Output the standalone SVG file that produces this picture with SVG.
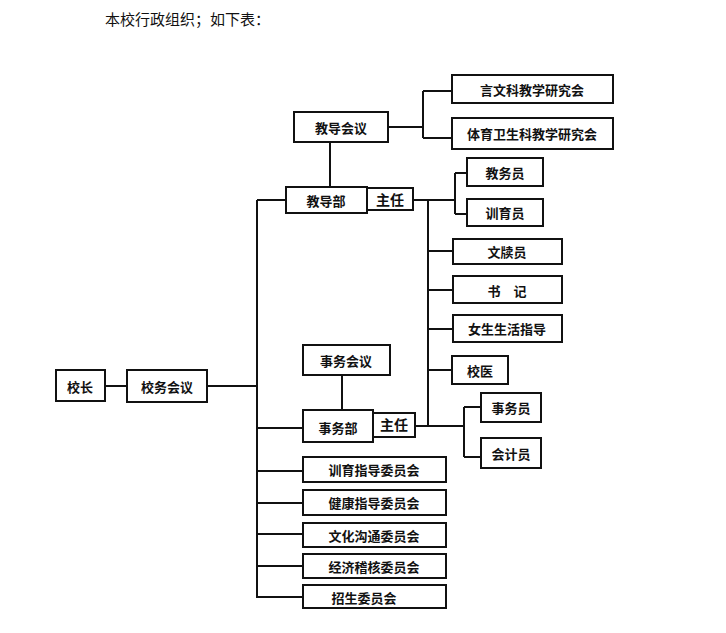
<svg xmlns="http://www.w3.org/2000/svg" width="726" height="633" viewBox="0 0 726 633">
<style>
rect{fill:#fff;stroke:#111;stroke-width:2}
text{font-family:"Noto Sans CJK SC",sans-serif;font-size:13px;font-weight:bold;fill:#111;text-anchor:middle;dominant-baseline:central}
#connectors path{fill:none;stroke:#111;stroke-width:2}
.title{font-family:"Noto Sans CJK SC",serif;font-size:15px;font-weight:normal;text-anchor:start}
</style>
<rect width="726" height="633" style="fill:#fff;stroke:none"/>
<text class="title" x="105" y="18">本校行政组织；如下表：</text>
<g id="connectors">
<path d="M105 386H127M207 386H257M257 200V598M257 200H286"/>
<path d="M330 142V187M388 127H423M423 91V138M423 91H452M423 138H452"/>
<path d="M413 200H455M455 173V214M455 173H467M455 214H467M428 200V426"/>
<path d="M428 251H453M428 290H453M428 329H453M428 370H452"/>
<path d="M342 375V410M257 428H303M415 426H464M464 407V457M464 407H481M464 457H481"/>
<path d="M257 471H303M257 503H303M257 534H303M257 566H303M257 597H303"/>
</g>
<g id="n1"><rect x="56" y="370" width="49" height="31"/><text x="80" y="386">校长</text></g>
<g id="n2"><rect x="127" y="370" width="80" height="32"/><text x="167" y="386">校务会议</text></g>
<g id="n3"><rect x="294" y="112" width="94" height="30"/><text x="341" y="127">教导会议</text></g>
<g id="n4"><rect x="452" y="75" width="161" height="28"/><text x="532" y="89">言文科教学研究会</text></g>
<g id="n5"><rect x="452" y="118" width="161" height="31"/><text x="532" y="133">体育卫生科教学研究会</text></g>
<g id="n6"><rect x="286" y="187" width="81" height="26"/><text x="326" y="200">教导部</text></g>
<g id="n7"><rect x="367" y="188" width="46" height="22"/><text x="390" y="199" style="font-size:14px">主任</text></g>
<g id="n8"><rect x="467" y="158" width="76" height="28"/><text x="505" y="172">教务员</text></g>
<g id="n9"><rect x="467" y="199" width="76" height="27"/><text x="505" y="212">训育员</text></g>
<g id="n10"><rect x="453" y="239" width="109" height="25"/><text x="507" y="251">文牍员</text></g>
<g id="n11"><rect x="453" y="276" width="109" height="27"/><text x="507" y="290">书　记</text></g>
<g id="n12"><rect x="453" y="315" width="109" height="27"/><text x="507" y="328">女生生活指导</text></g>
<g id="n13"><rect x="452" y="356" width="56" height="28"/><text x="480" y="370">校医</text></g>
<g id="n14"><rect x="303" y="345" width="87" height="30"/><text x="346" y="360">事务会议</text></g>
<g id="n15"><rect x="303" y="410" width="70" height="32"/><text x="338" y="427">事务部</text></g>
<g id="n16"><rect x="373" y="413" width="42" height="24"/><text x="394" y="424" style="font-size:14px">主任</text></g>
<g id="n17"><rect x="481" y="393" width="60" height="29"/><text x="511" y="407">事务员</text></g>
<g id="n18"><rect x="481" y="438" width="60" height="30"/><text x="511" y="453">会计员</text></g>
<g id="n19"><rect x="303" y="457" width="143" height="25"/><text x="374" y="469">训育指导委员会</text></g>
<g id="n20"><rect x="303" y="490" width="143" height="25"/><text x="374" y="502">健康指导委员会</text></g>
<g id="n21"><rect x="303" y="523" width="143" height="24"/><text x="374" y="535">文化沟通委员会</text></g>
<g id="n22"><rect x="303" y="554" width="143" height="24"/><text x="374" y="566">经济稽核委员会</text></g>
<g id="n23"><rect x="303" y="585" width="143" height="23"/><text x="364" y="597">招生委员会</text></g>
</svg>
